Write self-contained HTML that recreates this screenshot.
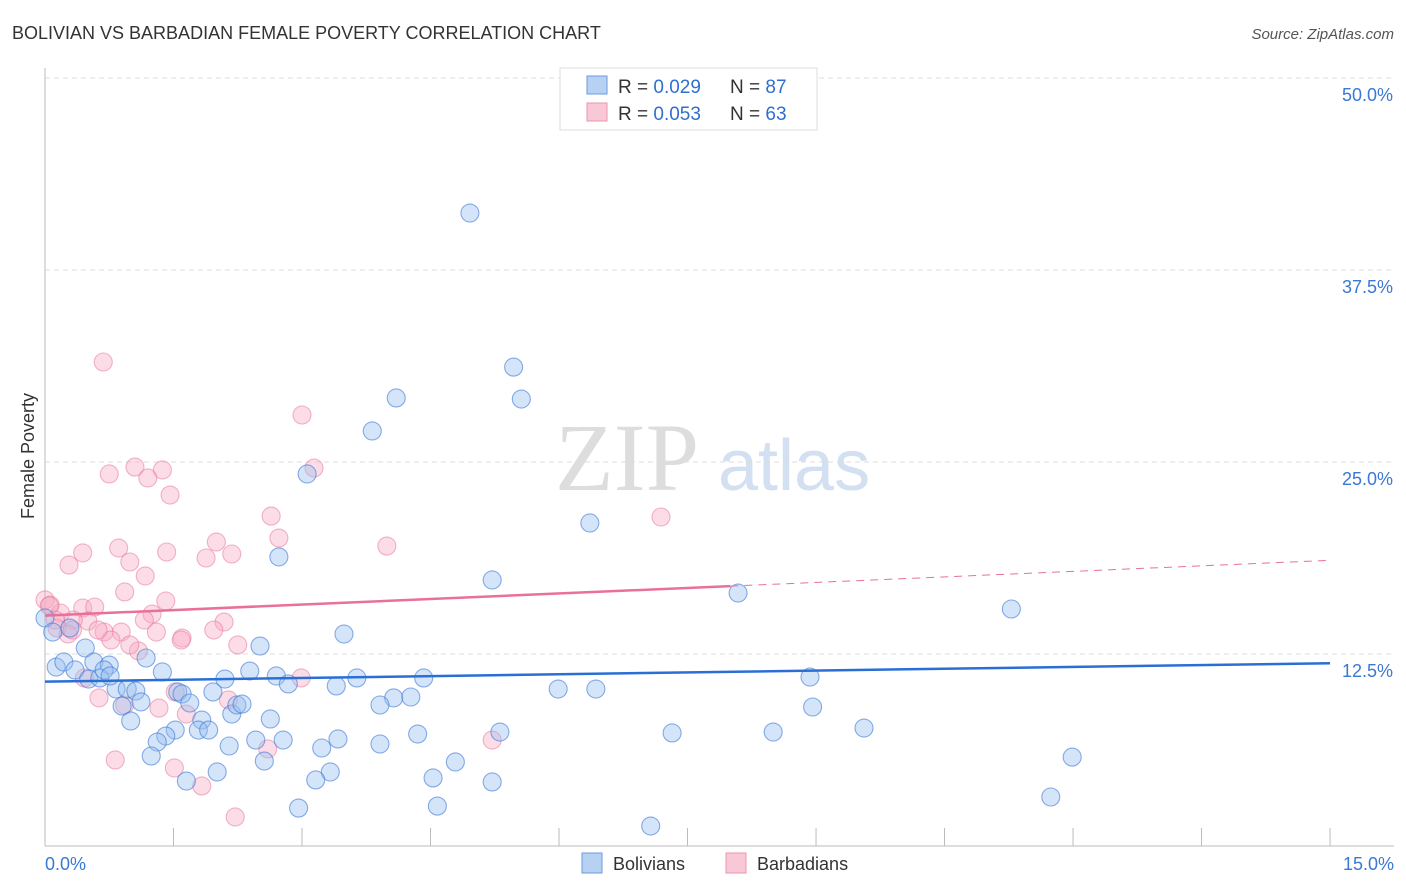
<!DOCTYPE html>
<html><head><meta charset="utf-8"><style>
body{margin:0;background:#fff;font-family:"Liberation Sans",sans-serif}
svg{display:block}
</style></head><body>
<svg id="chart" width="1406" height="892" xmlns="http://www.w3.org/2000/svg">
<text x="12" y="39" font-size="18" fill="#333">BOLIVIAN VS BARBADIAN FEMALE POVERTY CORRELATION CHART</text>
<text x="1394" y="39" font-size="15" fill="#555" font-style="italic" text-anchor="end">Source: ZipAtlas.com</text>
<text x="0" y="0" transform="translate(34,456) rotate(-90)" font-size="18" fill="#333" text-anchor="middle">Female Poverty</text>
<text x="555" y="490" font-size="96" fill="#ddd" font-family="Liberation Serif,serif">ZIP</text>
<text x="718" y="490" font-size="72" fill="#d3e0f2">atlas</text>
<g id="grid"></g><g id="pts"></g><g id="lines"></g>
<g>
<rect x="560" y="68" width="257" height="62" fill="#fff" stroke="#ddd"/>
<rect x="587" y="76" width="20" height="18" fill="#b7d1f3" stroke="#6a9ae0"/>
<rect x="587" y="103" width="20" height="18" fill="#f9c8d6" stroke="#eb94ad"/>
<text x="618" y="93" font-size="19" fill="#333">R = <tspan fill="#2f6fd0">0.029</tspan></text>
<text x="730" y="93" font-size="19" fill="#333">N = <tspan fill="#2f6fd0">87</tspan></text>
<text x="618" y="120" font-size="19" fill="#333">R = <tspan fill="#2f6fd0">0.053</tspan></text>
<text x="730" y="120" font-size="19" fill="#333">N = <tspan fill="#2f6fd0">63</tspan></text>
</g>
<g>
<rect x="582" y="853" width="20" height="20" fill="#b7d1f3" stroke="#6a9ae0"/>
<text x="613" y="870" font-size="18" fill="#333">Bolivians</text>
<rect x="726" y="853" width="20" height="20" fill="#f9c8d6" stroke="#eb94ad"/>
<text x="757" y="870" font-size="18" fill="#333">Barbadians</text>
</g>
</svg>
<script>
const yTicks=[12.5,25,37.5,50];
const yTickLabels=["12.5%","25.0%","37.5%","50.0%"];
const xTicks=[0,1.5,3,4.5,6,7.5,9,10.5,12,13.5,15];
const bluePx=[[470,213],[514,367],[396,398],[521,399],[372,431],[307,474],[590,523],[279,557],[492,580],[738,593],[1011,609],[344,634],[260,646],[85,648],[56,667],[64,662],[94,662],[109,665],[75,670],[162,672],[146,658],[250,671],[276,676],[357,678],[424,678],[810,677],[89,679],[100,678],[104,670],[225,679],[288,684],[336,686],[558,689],[596,689],[116,689],[127,689],[136,691],[178,692],[182,694],[213,692],[394,698],[411,697],[141,702],[122,706],[190,703],[380,705],[813,707],[232,714],[237,705],[242,704],[270,719],[131,721],[202,720],[175,730],[198,730],[209,730],[864,728],[500,732],[672,733],[773,732],[418,734],[166,736],[157,742],[256,740],[283,740],[338,739],[322,748],[380,744],[229,746],[151,756],[264,761],[455,762],[1072,757],[217,772],[330,772],[433,778],[316,780],[186,781],[492,782],[1051,797],[299,808],[437,806],[651,826],[45,618],[53,632],[70,628],[110,676]];
const pinkPx=[[103,362],[302,415],[135,467],[162,470],[314,468],[109,474],[148,478],[170,495],[661,517],[271,516],[279,538],[216,542],[119,548],[387,546],[83,553],[167,552],[232,554],[206,558],[69,565],[130,562],[145,576],[125,592],[166,601],[45,600],[50,605],[83,608],[95,607],[60,613],[152,614],[144,620],[88,621],[73,620],[224,622],[57,628],[68,634],[104,632],[121,632],[156,632],[214,630],[182,638],[181,640],[238,645],[111,640],[138,651],[84,678],[301,678],[99,698],[175,692],[228,700],[159,708],[125,705],[186,714],[268,749],[492,740],[115,760],[174,768],[202,786],[235,817],[49,606],[55,620],[72,630],[130,645],[98,630]];
const blueX=bluePx.map(p=>+((p[0]-45)/85.67).toFixed(2));
const blueY=bluePx.map(p=>+((846-p[1])/15.36).toFixed(2));
const pinkX=pinkPx.map(p=>+((p[0]-45)/85.67).toFixed(2));
const pinkY=pinkPx.map(p=>+((846-p[1])/15.36).toFixed(2));
const blueTrend=[10.7,11.9];
const pinkTrend=[15.0,18.6];
const X=v=>45+v*85.67, Y=v=>846-v*15.36;
const NS="http://www.w3.org/2000/svg";
function mk(tag,attrs,parent){const e=document.createElementNS(NS,tag);for(const k in attrs)e.setAttribute(k,attrs[k]);parent.appendChild(e);return e;}
const g=document.getElementById('grid');
yTicks.forEach((t,i)=>{
 const l=mk('line',{x1:45,x2:1394,y1:Y(t),y2:Y(t),stroke:'#ddd','stroke-dasharray':'5,4'},g);
 
 
 const tx=mk('text',{x:1393,y:Y(t)+23,'font-size':18,fill:'#3a78d4','text-anchor':'end'},g);
 tx.textContent=yTickLabels[i];
 
 
});
const ax=mk('line',{x1:45,x2:1394,y1:846,y2:846,stroke:'#bbb'},g);


const ay=mk('line',{x1:45,x2:45,y1:68,y2:846,stroke:'#bbb'},g);


xTicks.forEach(t=>{const l=mk('line',{x1:X(t),x2:X(t),y1:828,y2:846,stroke:'#bbb'},g);
 
 });
const x0=mk('text',{x:45,y:870,'font-size':18,fill:'#3a78d4'},g);x0.textContent='0.0%';


const x1=mk('text',{x:1394,y:870,'font-size':18,fill:'#3a78d4','text-anchor':'end'},g);x1.textContent='15.0%';


const P=document.getElementById('pts');
pinkX.forEach((x,i)=>{const c=mk('circle',{cx:X(x),cy:Y(pinkY[i]),r:9,fill:'rgba(247,170,195,0.4)',stroke:'rgba(232,120,155,0.55)','stroke-width':1.1},P);
 
 });
blueX.forEach((x,i)=>{const c=mk('circle',{cx:X(x),cy:Y(blueY[i]),r:9,fill:'rgba(150,190,240,0.4)',stroke:'rgba(60,120,215,0.6)','stroke-width':1.1},P);
 
 });
const L=document.getElementById('lines');
const bl=mk('line',{x1:X(0),y1:Y(blueTrend[0]),x2:X(15),y2:Y(blueTrend[1]),stroke:'#2a6fd6','stroke-width':2.5},L);


const pm=t=>pinkTrend[0]+(pinkTrend[1]-pinkTrend[0])*t/15;
const pl=mk('line',{x1:X(0),y1:Y(pinkTrend[0]),x2:X(8),y2:Y(pm(8)),stroke:'#e8709a','stroke-width':2.5},L);


const pd=mk('line',{x1:X(8),y1:Y(pm(8)),x2:X(15),y2:Y(pinkTrend[1]),stroke:'#e8709a','stroke-width':1,'stroke-dasharray':'8,6'},L);


</script>
</body></html>
